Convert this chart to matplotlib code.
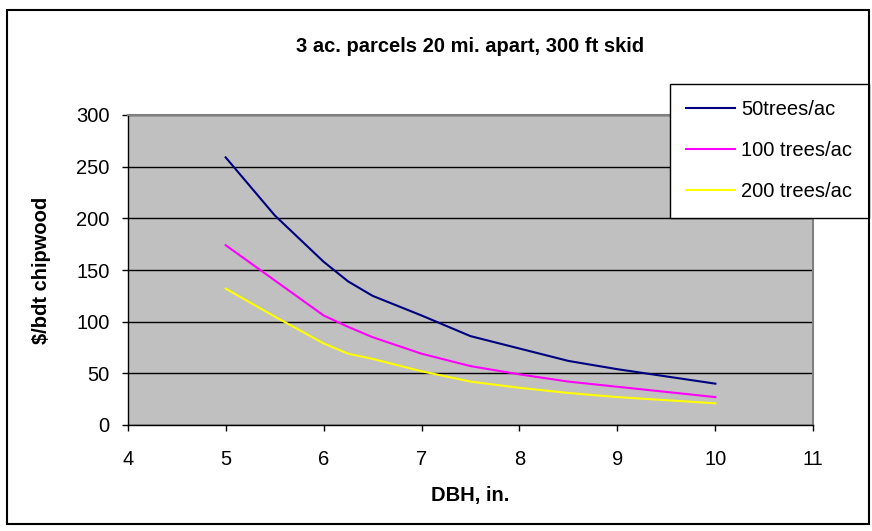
import matplotlib.pyplot as plt
from matplotlib.patches import Rectangle

plt.rcParams['font.family'] = ['Liberation Sans', 'DejaVu Sans']

# tree diameter (in.) and harvest cost ($/bdt) for three stand densities
dbh = [5, 5.5, 6, 6.25, 6.5, 7, 7.5, 8, 8.5, 9, 9.5, 10]
cost_50 = [259, 203, 158, 139, 125, 106, 86, 74, 62, 54, 47, 40]
cost_100 = [174, 140, 106, 95, 85, 69, 57, 49, 42, 37, 32, 27]
cost_200 = [132, 105, 79, 69, 64, 52, 42, 36, 31, 27, 24, 21]

series = [
    (cost_50, '#000080', '50trees/ac'),
    (cost_100, '#FF00FF', '100 trees/ac'),
    (cost_200, '#FFFF00', '200 trees/ac'),
]

W, H = 872, 531
fig = plt.figure(figsize=(W / 100, H / 100), dpi=100)
ax = fig.add_axes([127.7 / W, 1 - 425 / H, (813.3 - 127.7) / W, 310 / H])
ax.set_facecolor('#C0C0C0')

for vals, col, lab in series:
    ax.plot(dbh, vals, color=col, lw=1.5, label=lab, zorder=3)

ax.set_xlim(4, 11)
ax.set_ylim(0, 300)
ax.set_xticks(range(4, 12))
ax.set_yticks(range(0, 301, 50))
ax.yaxis.grid(True, color='black', lw=1)
ax.set_axisbelow(True)

for side in ['left', 'bottom']:
    ax.spines[side].set_color('black')
    ax.spines[side].set_linewidth(1)
for side in ['top', 'right']:
    ax.spines[side].set_color('#808080')
    ax.spines[side].set_linewidth(1.5)

ax.tick_params(axis='both', direction='out', length=4, width=1, colors='black',
               labelsize=14.5)
ax.tick_params(axis='x', pad=14)
ax.tick_params(axis='y', pad=9)

ax.set_xlabel('DBH, in.', fontsize=14.5, fontweight='bold', labelpad=12)
ax.set_ylabel('$/bdt chipwood', fontsize=14.5, fontweight='bold', labelpad=18)

fig.text(470 / W, 1 - 46 / H, '3 ac. parcels 20 mi. apart, 300 ft skid',
         ha='center', va='center', fontsize=14.5, fontweight='bold')

leg = ax.legend(loc='upper left', bbox_to_anchor=(670 / W, 1 - 84 / H),
                bbox_transform=fig.transFigure, fontsize=14.5, frameon=True,
                fancybox=False, edgecolor='black', framealpha=1,
                handlelength=2.45, handletextpad=0.3, labelspacing=1.1,
                borderpad=0.8, borderaxespad=0)
leg.get_frame().set_linewidth(1)

# chart area border
fig.patches.append(Rectangle((7 / W, 1 - 524 / H), 862 / W, 514 / H,
                             transform=fig.transFigure, fill=False,
                             edgecolor='black', lw=1.5))

fig.savefig('out.png', dpi=100)
